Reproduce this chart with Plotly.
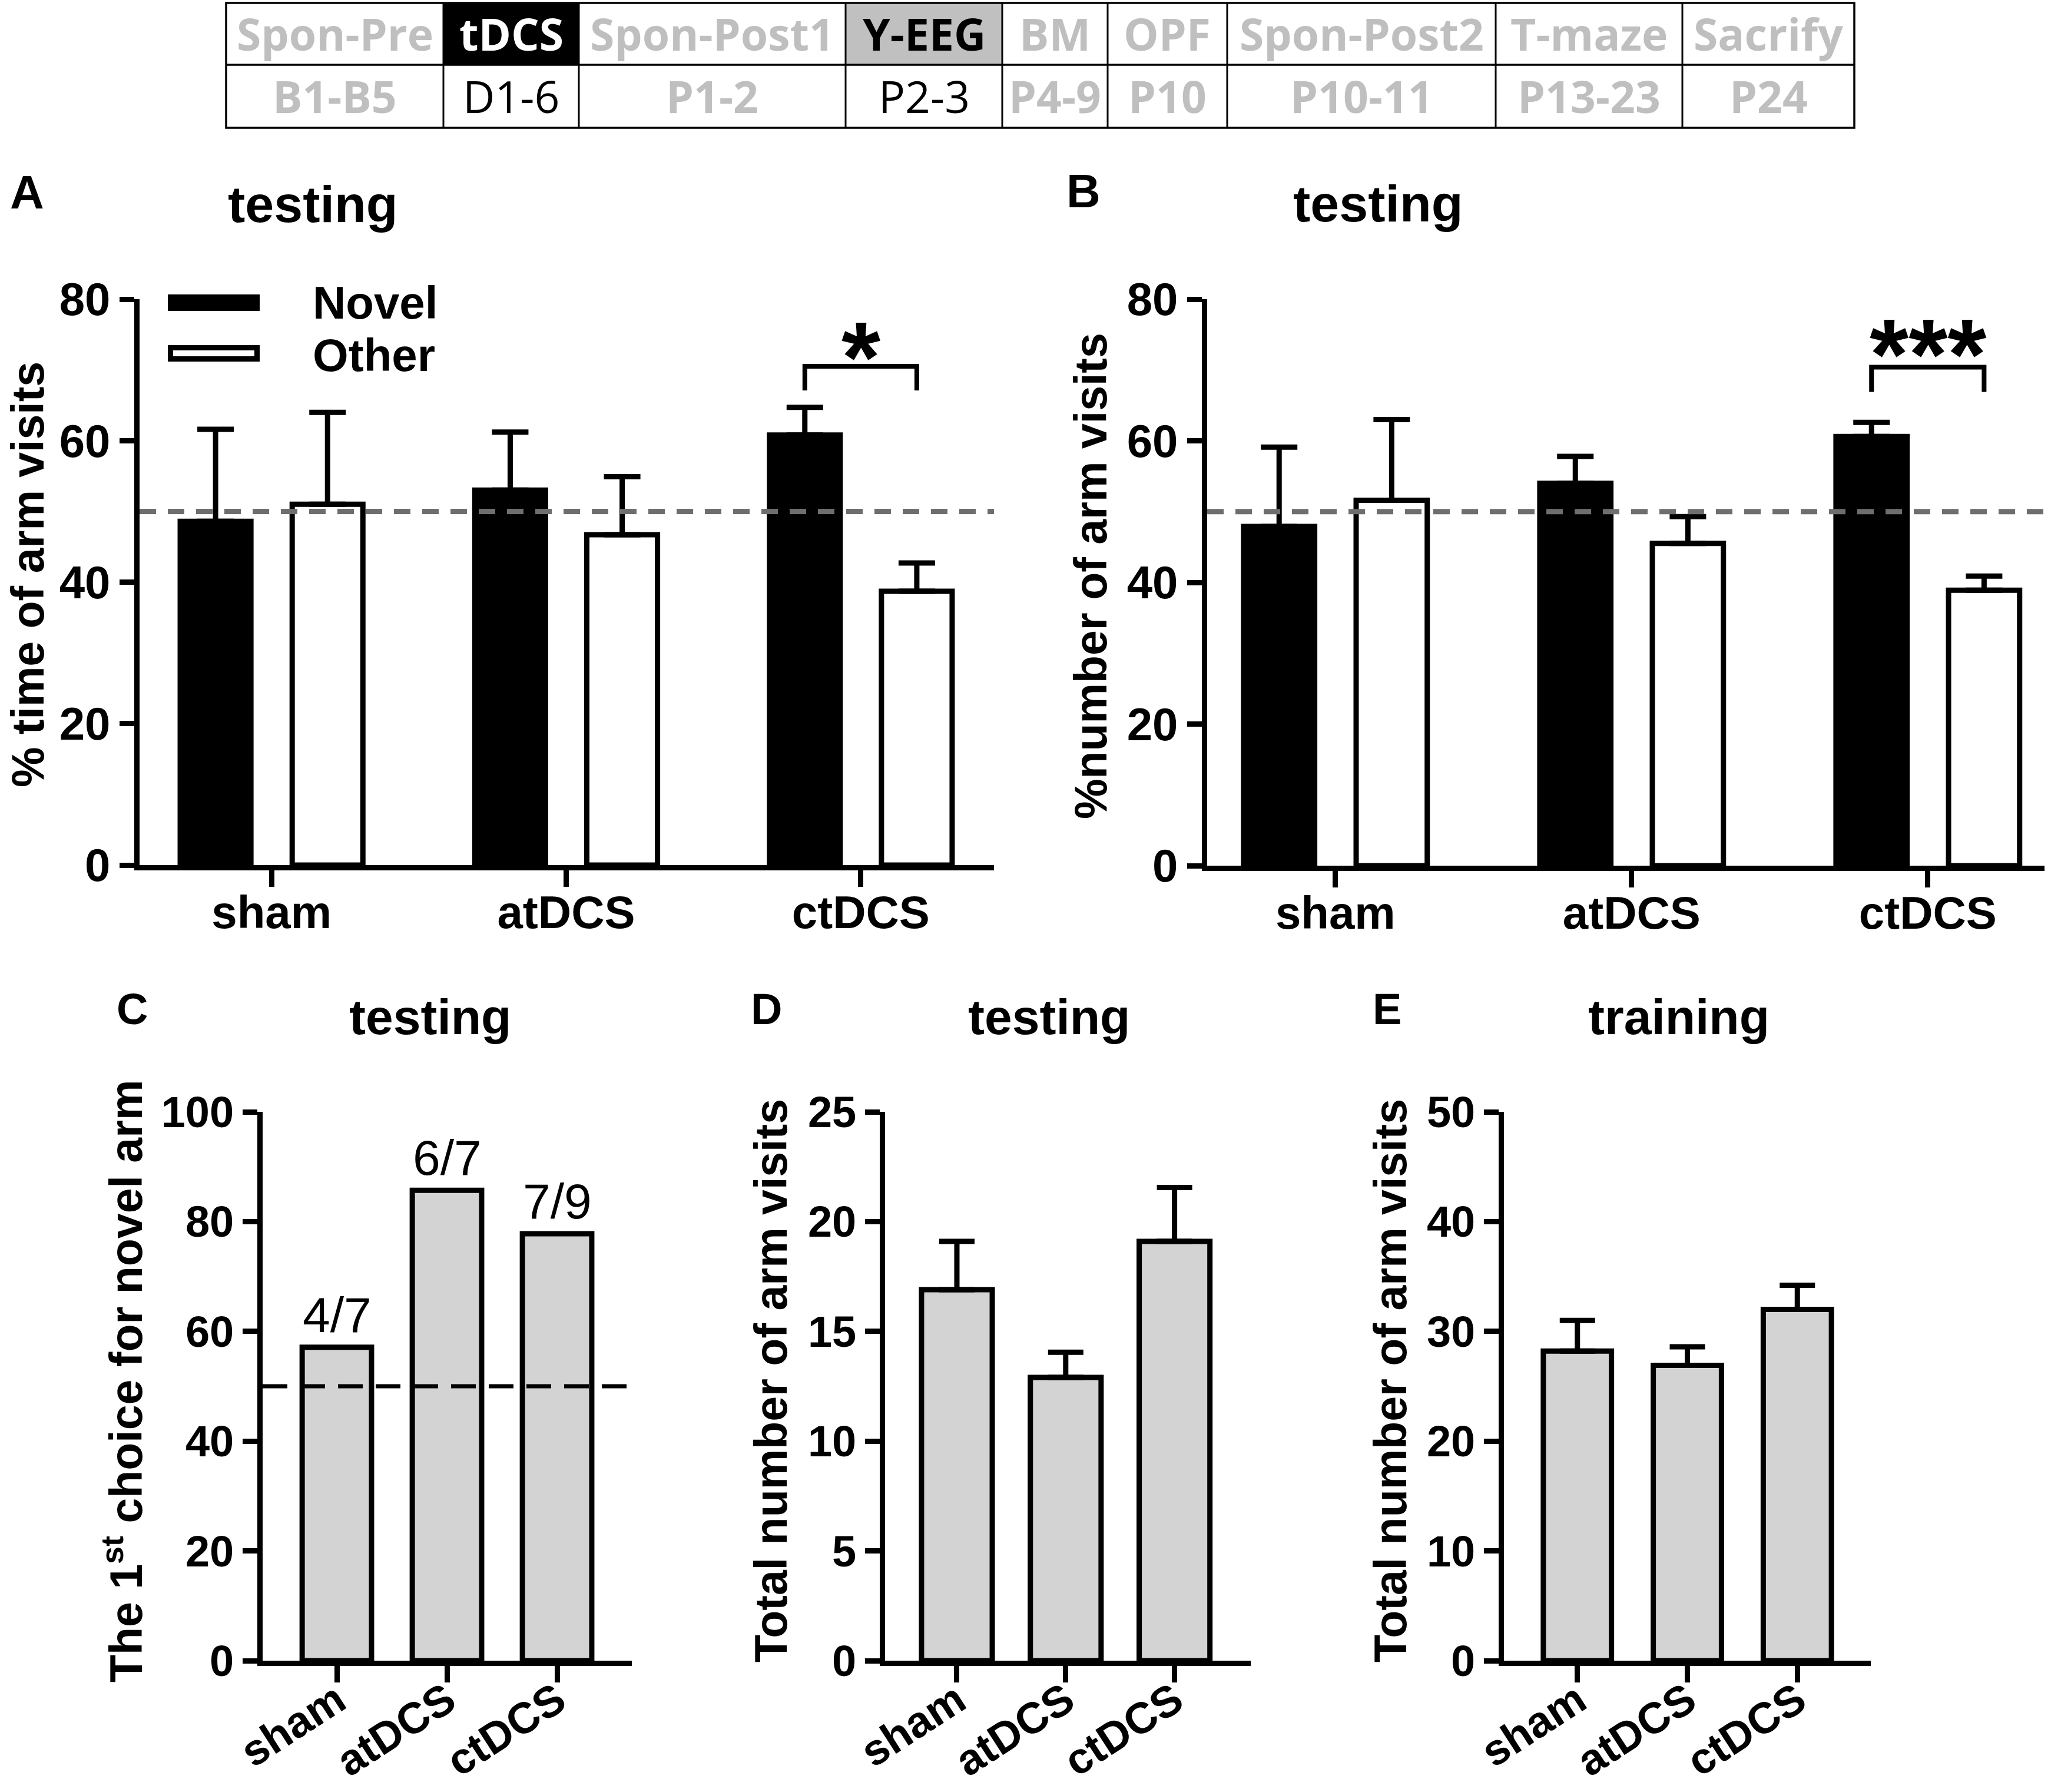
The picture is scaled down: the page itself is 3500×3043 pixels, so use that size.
import plotly.graph_objects as go

W, H = 3500, 3043

# ---------------- data ----------------
stage_names = ["Spon-Pre", "tDCS", "Spon-Post1", "Y-EEG", "BM", "OPF", "Spon-Post2", "T-maze", "Sacrify"]
stage_days = ["B1-B5", "D1-6", "P1-2", "P2-3", "P4-9", "P10", "P10-11", "P13-23", "P24"]
current_stage = "Y-EEG"
stimulation_stage = "tDCS"

groups = ["sham", "atDCS", "ctDCS"]
series_names = ["Novel", "Other"]

time_novel = [48.6, 53.0, 60.8]
time_novel_sem = [13.0, 8.2, 3.9]
time_other = [51.0, 46.7, 38.7]
time_other_sem = [13.0, 8.2, 4.0]

visits_novel = [47.9, 54.0, 60.6]
visits_novel_sem = [11.2, 3.8, 2.0]
visits_other = [51.6, 45.5, 38.9]
visits_other_sem = [11.4, 3.8, 2.0]

first_choice_pct = [57.1, 85.7, 77.8]
first_choice_labels = ["4/7", "6/7", "7/9"]

total_testing = [16.9, 12.9, 19.1]
total_testing_sem = [2.2, 1.15, 2.45]

total_training = [28.2, 26.9, 32.0]
total_training_sem = [2.8, 1.7, 2.2]

chance_level = 50
sig_time = "*"
sig_visits = "***"

# ---------------- styles ----------------
FONT = "Liberation Sans, Arial, sans-serif"
TFONT = "Open Sans, Liberation Sans, sans-serif"
LGRAY = "#bfbfbf"
BARGRAY = "#d3d3d3"
LW = 9


def px(x):
    return x / W


def py(y):
    return 1 - y / H


xpos = list(range(len(groups)))
fig = go.Figure()
shapes = []
ann = []


def text(t, x, y, size, bold=True, angle=0, xanchor="center", yanchor="middle", xref="paper", yref="paper",
         yshift=0, family=FONT, color="black"):
    ann.append(dict(text=t, x=x, y=y, xref=xref, yref=yref, showarrow=False, textangle=angle,
                    xanchor=xanchor, yanchor=yanchor, yshift=yshift,
                    font=dict(family=family, size=size, color=color, weight="bold" if bold else "normal")))


# ---------------- protocol table (drawn as cells) ----------------
col_widths = [369, 230, 453, 266, 179, 203, 456, 317, 292]
tab_left, row_edges = 384, [5, 110, 217]
edges = [tab_left]
for w in col_widths:
    edges.append(edges[-1] + w)

for i, (s, d) in enumerate(zip(stage_names, stage_days)):
    x0, x1 = edges[i], edges[i + 1]
    if s == stimulation_stage:
        fill, hcol = "black", "white"
    elif s == current_stage:
        fill, hcol = "#c0c0c0", "black"
    else:
        fill, hcol = "white", LGRAY
    active = s in (stimulation_stage, current_stage)
    shapes.append(dict(type="rect", xref="paper", yref="paper", x0=px(x0), x1=px(x1),
                       y0=py(row_edges[1]), y1=py(row_edges[0]), fillcolor=fill, line=dict(width=0), layer="below"))
    xc = px((x0 + x1) / 2)
    text(s, xc, py((row_edges[0] + row_edges[1]) / 2), 75, bold=True, family=TFONT, color=hcol)
    text(d, xc, py((row_edges[1] + row_edges[2]) / 2), 75, bold=not active, family=TFONT,
         color="black" if active else LGRAY)

for e in edges[1:-1]:
    shapes.append(dict(type="line", xref="paper", yref="paper", x0=px(e), x1=px(e),
                       y0=py(row_edges[2]), y1=py(row_edges[0]), line=dict(color="black", width=3)))
shapes.append(dict(type="line", xref="paper", yref="paper", x0=px(edges[0]), x1=px(edges[-1]),
                   y0=py(row_edges[1]), y1=py(row_edges[1]), line=dict(color="black", width=3.5)))
shapes.append(dict(type="rect", xref="paper", yref="paper", x0=px(edges[0]), x1=px(edges[-1]),
                   y0=py(row_edges[2]), y1=py(row_edges[0]), line=dict(color="black", width=3.5)))

# ---------------- bars ----------------
def err(sem, w):
    return dict(type="data", symmetric=False, array=sem, arrayminus=[0] * len(sem),
                color="black", thickness=LW, width=w)


def pair(novel, nsem, other, osem, xa, ya):
    fig.add_trace(go.Bar(x=xpos, y=novel, width=0.24, offset=-0.31, name=series_names[0],
                         marker=dict(color="black", line=dict(color="black", width=LW)),
                         error_y=err(nsem, 31), xaxis=xa, yaxis=ya, showlegend=False))
    fig.add_trace(go.Bar(x=xpos, y=other, width=0.24, offset=0.07, name=series_names[1],
                         marker=dict(color="white", line=dict(color="black", width=LW)),
                         error_y=err(osem, 31), xaxis=xa, yaxis=ya, showlegend=False))


pair(time_novel, time_novel_sem, time_other, time_other_sem, "x", "y")
pair(visits_novel, visits_novel_sem, visits_other, visits_other_sem, "x2", "y2")

fig.add_trace(go.Bar(x=xpos, y=first_choice_pct, width=0.63, marker=dict(color=BARGRAY, line=dict(color="black", width=LW)),
                     xaxis="x3", yaxis="y3", showlegend=False))
fig.add_trace(go.Bar(x=xpos, y=total_testing, width=0.65, marker=dict(color=BARGRAY, line=dict(color="black", width=LW)),
                     error_y=err(total_testing_sem, 30), xaxis="x4", yaxis="y4", showlegend=False))
fig.add_trace(go.Bar(x=xpos, y=total_training, width=0.62, marker=dict(color=BARGRAY, line=dict(color="black", width=LW)),
                     error_y=err(total_training_sem, 30), xaxis="x5", yaxis="y5", showlegend=False))

# ---------------- axes ----------------
common = dict(showline=True, linecolor="black", linewidth=LW, ticks="outside", tickwidth=LW,
              tickcolor="black", showgrid=False, zeroline=False, automargin=False)


def xax(dom, rng, anchor, size, angle=0, standoff=0):
    return dict(domain=[px(dom[0]), px(dom[1])], range=rng, anchor=anchor, tickmode="array",
                tickvals=xpos, ticktext=groups, tickangle=angle, ticklen=28, ticklabelstandoff=standoff,
                tickfont=dict(family=FONT, size=size, color="black", weight="bold"), **common)


def yax(ybot, ytop, rng, dtick, anchor, size):
    return dict(domain=[py(ybot), py(ytop)], range=rng, dtick=dtick, tick0=0, anchor=anchor, ticklen=25,
                tickfont=dict(family=FONT, size=size, color="black", weight="bold"), **common)


fig.update_layout(
    xaxis=xax((237, 1688), [-0.448, 2.452], "y", 78, 0, -24),
    yaxis=yax(1469, 508, [0, 80], 20, "x", 78),
    xaxis2=xax((2050, 3472), [-0.433, 2.394], "y2", 78, 0, -24),
    yaxis2=yax(1470, 508, [0, 80], 20, "x2", 78),
    xaxis3=xax((446, 1073), [-0.674, 2.679], "y3", 74, -33, -42),
    yaxis3=yax(2820, 1888, [0, 100], 20, "x3", 74),
    xaxis4=xax((1503, 2124), [-0.66, 2.70], "y4", 74, -33, -42),
    yaxis4=yax(2820, 1888, [0, 25], 5, "x4", 74),
    xaxis5=xax((2554, 3177), [-0.668, 2.668], "y5", 74, -33, -42),
    yaxis5=yax(2820, 1888, [0, 50], 10, "x5", 74),
)

# ---------------- reference lines, brackets ----------------
for xr, yr in (("x", "y"), ("x2", "y2")):
    shapes.append(dict(type="line", xref=xr + " domain", x0=0, x1=1, yref=yr, y0=chance_level, y1=chance_level,
                       line=dict(color="#6e6e6e", width=LW, dash="28px,20px"), layer="above"))
shapes.append(dict(type="line", xref="x3 domain", x0=0, x1=1, yref="y3", y0=chance_level, y1=chance_level,
                   line=dict(color="black", width=7, dash="42px,22px"), layer="above"))

ct = groups.index("ctDCS")
for xr, yr, ylo, yhi in (("x", "y", 67.1, 70.5), ("x2", "y2", 66.9, 70.4)):
    shapes.append(dict(type="path", xref=xr, yref=yr,
                       path="M %f,%f L %f,%f L %f,%f L %f,%f" % (ct - 0.19, ylo, ct - 0.19, yhi, ct + 0.19, yhi, ct + 0.19, ylo),
                       line=dict(color="black", width=8)))

# legend swatches (panel A)
shapes.append(dict(type="rect", xref="paper", yref="paper", x0=px(285), x1=px(441), y0=py(528), y1=py(500),
                   fillcolor="black", line=dict(width=0)))
shapes.append(dict(type="rect", xref="paper", yref="paper", x0=px(289.5), x1=px(436.5), y0=py(609.5), y1=py(590.5),
                   fillcolor="white", line=dict(color="black", width=LW)))
fig.update_layout(shapes=shapes)

# ---------------- text ----------------
text("A", px(46), py(326), 80)
text("testing", px(531), py(347), 88)
text("B", px(1840), py(324), 80)
text("testing", px(2340), py(345), 88)
text("% time of arm visits", px(47), py(976), 77, angle=-90)
text("%number of arm visits", px(1852), py(978), 77, angle=-90)
text(series_names[0], px(529), py(514), 78, xanchor="left")
text(series_names[1], px(529), py(603), 78, xanchor="left")
text(sig_time, ct, 73.4, 170, xref="x", yref="y", yshift=-20)
text(sig_visits, ct, 73.7, 170, xref="x2", yref="y2", yshift=-18)

text("C", px(225), py(1714), 74)
text("testing", px(730), py(1727), 84)
text("D", px(1301), py(1714), 74)
text("testing", px(1781), py(1727), 84)
text("E", px(2355), py(1714), 74)
text("training", px(2851), py(1727), 84)
text("The 1<sup>st</sup> choice for novel arm", px(208), py(2345), 77, angle=-90)
text("Total number of arm visits", px(1309), py(2345), 77, angle=-90)
text("Total number of arm visits", px(2361), py(2345), 77, angle=-90)
for i, (v, lab) in enumerate(zip(first_choice_pct, first_choice_labels)):
    text(lab, i, v, 84, bold=False, xref="x3", yref="y3", yanchor="bottom", yshift=6)

fig.update_layout(annotations=ann)

fig.update_layout(width=W, height=H, autosize=False, margin=dict(l=0, r=0, t=0, b=0, pad=0),
                  paper_bgcolor="white", plot_bgcolor="white", barmode="overlay", showlegend=False)

fig.write_html("out.html", include_plotlyjs=True, config={"displayModeBar": False},
               post_script="document.body.style.margin='0';")
